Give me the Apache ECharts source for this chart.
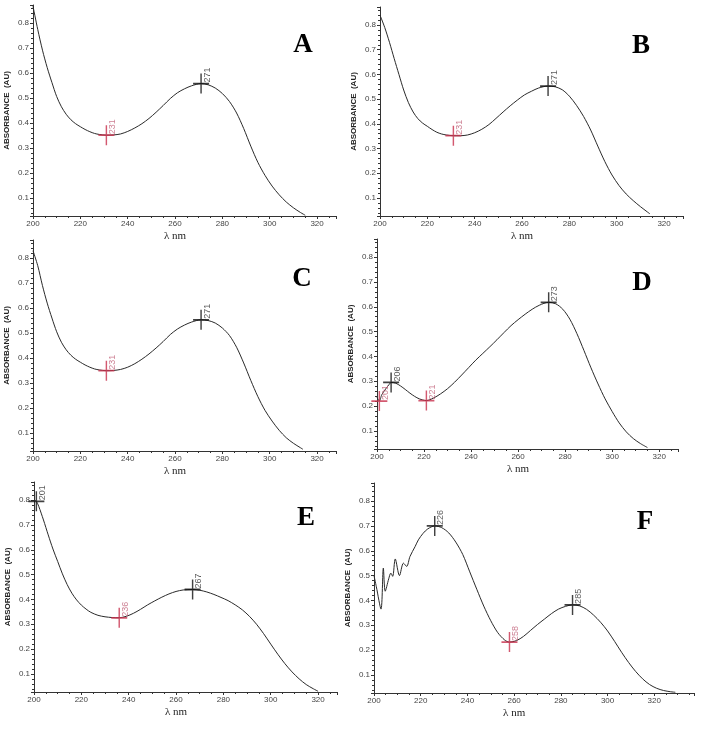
<!DOCTYPE html>
<html><head><meta charset="utf-8">
<script src="https://cdn.jsdelivr.net/npm/echarts@6/dist/echarts.min.js"></script>
<style>html,body{margin:0;padding:0;background:#fff}#c{width:714px;height:730px}</style>
</head><body><div id="c"></div>
<script>
// ---- data (wavelength nm, absorbance AU) ----
const panelLetters = ['A','B','C','D','E','F'];
const xTickValues = [200,220,240,260,280,300,320];
const yTickValues = [0.1,0.2,0.3,0.4,0.5,0.6,0.7,0.8];

const nmA = [200,202,204,206,208,210,212,214,216,218,220,222,224,226,228,231,234,237,240,243,246,249,252,255,258,261,264,267,271,274,277,280,283,286,289,292,295,298,301,304,307,310,313,315];
const absA = [0.868,0.775,0.692,0.622,0.562,0.506,0.465,0.435,0.413,0.397,0.385,0.374,0.365,0.358,0.354,0.351,0.352,0.356,0.366,0.38,0.397,0.418,0.443,0.47,0.498,0.521,0.537,0.549,0.558,0.553,0.54,0.518,0.486,0.44,0.378,0.307,0.242,0.19,0.147,0.112,0.083,0.06,0.041,0.03];
const peakNmA = [271], peakAbsA = [0.558];
const valleyNmA = [231], valleyAbsA = [0.351];

const nmB = [200,202,204,206,208,210,212,214,216,218,220,222,224,226,228,231,234,237,240,243,246,249,252,255,258,261,264,267,271,274,277,280,283,286,289,292,295,298,301,304,307,310,313,314];
const absB = [0.84,0.79,0.73,0.664,0.6,0.537,0.486,0.448,0.421,0.403,0.39,0.377,0.366,0.359,0.355,0.352,0.352,0.355,0.364,0.378,0.397,0.422,0.448,0.473,0.496,0.517,0.532,0.545,0.553,0.55,0.538,0.512,0.475,0.43,0.375,0.31,0.247,0.193,0.15,0.116,0.089,0.065,0.043,0.036];
const peakNmB = [271], peakAbsB = [0.553];
const valleyNmB = [231], valleyAbsB = [0.352];

const nmC = [200,202,204,206,208,210,212,214,216,218,220,222,224,226,228,231,234,237,240,243,246,249,252,255,258,261,264,267,271,274,277,280,283,286,289,292,295,298,301,304,307,310,313,314];
const absC = [0.83,0.77,0.69,0.62,0.56,0.505,0.463,0.433,0.411,0.395,0.383,0.372,0.363,0.356,0.352,0.349,0.35,0.354,0.363,0.377,0.395,0.416,0.44,0.466,0.494,0.516,0.532,0.544,0.553,0.55,0.54,0.52,0.49,0.443,0.38,0.31,0.245,0.19,0.147,0.11,0.08,0.058,0.04,0.034];
const peakNmC = [271], peakAbsC = [0.553];
const valleyNmC = [231], valleyAbsC = [0.349];

const nmD = [200,201,202,203,204,205,206,208,210,212,214,216,218,221,224,227,230,233,236,239,242,245,248,251,254,257,260,263,266,269,273,276,279,282,285,288,291,294,297,300,303,306,309,312,315];
const absD = [0.235,0.22,0.245,0.26,0.273,0.285,0.295,0.292,0.281,0.267,0.252,0.239,0.229,0.222,0.232,0.249,0.27,0.296,0.325,0.355,0.385,0.412,0.439,0.467,0.496,0.524,0.548,0.57,0.59,0.606,0.618,0.612,0.59,0.55,0.492,0.424,0.354,0.289,0.229,0.178,0.132,0.096,0.069,0.049,0.033];
const peakNmD = [206,273], peakAbsD = [0.295,0.618];
const valleyNmD = [201,221], valleyAbsD = [0.22,0.222];

const nmE = [200,201,202,204,206,208,210,212,214,216,218,220,222,224,227,230,233,236,239,242,245,248,251,254,257,260,263,267,270,273,276,279,282,285,288,291,294,297,300,303,306,309,312,315,318,320];
const absE = [0.80,0.795,0.775,0.72,0.66,0.603,0.553,0.503,0.46,0.425,0.398,0.377,0.361,0.348,0.336,0.33,0.327,0.326,0.332,0.344,0.36,0.378,0.394,0.409,0.422,0.432,0.438,0.44,0.437,0.43,0.42,0.408,0.395,0.378,0.358,0.332,0.3,0.262,0.22,0.179,0.141,0.108,0.08,0.057,0.04,0.03];
const peakNmE = [201,267], peakAbsE = [0.795,0.44];
const valleyNmE = [236], valleyAbsE = [0.326];

const nmF = [200,201,203,204,204.8,206.3,207.2,208,209.1,210.9,212.6,214,215.4,217.6,219,221,223,226,229,232,235,238,241,244,247,250,253,256,258,261,264,267,270,273,276,279,282,285,288,291,294,297,300,303,306,309,312,315,318,321,324,327,329];
const absF = [0.50,0.455,0.365,0.53,0.437,0.487,0.51,0.497,0.567,0.50,0.55,0.537,0.577,0.617,0.644,0.67,0.688,0.70,0.693,0.672,0.635,0.585,0.515,0.445,0.377,0.318,0.27,0.24,0.232,0.238,0.255,0.279,0.303,0.325,0.347,0.365,0.376,0.382,0.378,0.364,0.341,0.312,0.277,0.235,0.191,0.15,0.114,0.084,0.061,0.046,0.037,0.032,0.03];
const peakNmF = [226,285], peakAbsF = [0.70,0.382];
const valleyNmF = [258], valleyAbsF = [0.232];

// ---- layout / style ----
const panels = [
  {nm:nmA, abs:absA, pk:[peakNmA,peakAbsA], vl:[valleyNmA,valleyAbsA]},
  {nm:nmB, abs:absB, pk:[peakNmB,peakAbsB], vl:[valleyNmB,valleyAbsB]},
  {nm:nmC, abs:absC, pk:[peakNmC,peakAbsC], vl:[valleyNmC,valleyAbsC]},
  {nm:nmD, abs:absD, pk:[peakNmD,peakAbsD], vl:[valleyNmD,valleyAbsD]},
  {nm:nmE, abs:absE, pk:[peakNmE,peakAbsE], vl:[valleyNmE,valleyAbsE]},
  {nm:nmF, abs:absF, pk:[peakNmF,peakAbsF], vl:[valleyNmF,valleyAbsF]}
];
const boxes = [
  {left:33, top:5, width:303, height:211, xMax:328},
  {left:380, top:7, width:303, height:209, xMax:328},
  {left:33, top:240, width:303, height:211, xMax:328},
  {left:377, top:239, width:301, height:210, xMax:328},
  {left:34, top:482, width:303, height:210, xMax:328},
  {left:374, top:483, width:320, height:210, xMax:337}
];
const letterPos = [[303,45],[641,46],[302,279],[642,283],[306,518],[645,522]];
const Y_MIN = 0.027, Y_MAX = 0.873;
const AX = '#333';
const CROSS = 'path://M0,10L16,10M8,0L8,20';

const zip = (a,b) => a.map((v,i)=>[v,b[i]]);
const isTick = (v, arr) => arr.some(t => Math.abs(t - v) < 1e-6);

const grid = [], xAxis = [], yAxis = [], series = [], graphic = [];
panels.forEach((p, i) => {
  const b = boxes[i];
  grid.push({left:b.left, top:b.top, width:b.width, height:b.height, containLabel:false});
  const shift = b.width/2 - 60*b.width/(b.xMax-200);
  xAxis.push({
    gridIndex:i, type:'value', min:200, max:b.xMax, interval:20,
    name:'λ nm', nameLocation:'middle', nameGap:15,
    nameTextStyle:{fontFamily:'Liberation Serif', fontSize:11, color:'#222', padding:[0, 2*shift, 0, 0]},
    axisLine:{lineStyle:{color:AX, width:1}},
    axisTick:{show:true, length:3, lineStyle:{color:AX}},
    minorTick:{show:true, splitNumber:4, length:2, lineStyle:{color:AX}},
    splitLine:{show:false},
    axisLabel:{fontFamily:'Liberation Sans', fontSize:8, color:'#444', margin:4,
      formatter: v => isTick(v, xTickValues) ? String(v) : ''}
  });
  yAxis.push({
    gridIndex:i, type:'value', min:Y_MIN, max:Y_MAX, splitNumber:8,
    name:'ABSORBANCE  (AU)', nameLocation:'middle', nameGap:22,
    nameTextStyle:{fontFamily:'Liberation Sans', fontSize:8, fontWeight:'bold', color:'#222'},
    axisLine:{show:true, lineStyle:{color:AX, width:1}},
    axisTick:{show:true, length:3, lineStyle:{color:AX}},
    minorTick:{show:true, splitNumber:5, length:2, lineStyle:{color:AX}},
    splitLine:{show:false},
    axisLabel:{fontFamily:'Liberation Sans', fontSize:8, color:'#444', margin:4,
      formatter: v => isTick(v, yTickValues) ? v.toFixed(1) : ''}
  });
  series.push({
    type:'line', xAxisIndex:i, yAxisIndex:i, data:zip(p.nm, p.abs),
    showSymbol:false, smooth:0.3, silent:true,
    lineStyle:{color:'#2a2a2a', width:1}
  });
  const mk = (pts, col, lblCol) => ({
    type:'scatter', xAxisIndex:i, yAxisIndex:i, data:zip(pts[0], pts[1]),
    symbol:CROSS, symbolSize:[16,20], z:5,
    itemStyle:{color:'transparent', borderColor:col, borderWidth:1.6},
    label:{show:true, position:'inside', rotate:90, align:'left', verticalAlign:'middle',
      offset:[1,6], fontFamily:'Liberation Sans', fontSize:9, color:lblCol,
      formatter: d => String(d.value[0])}
  });
  series.push(mk(p.pk, '#111', '#333'));
  series.push(mk(p.vl, '#c8304c', '#c06078'));
  graphic.push({type:'text', x:letterPos[i][0], y:letterPos[i][1],
    style:{text:panelLetters[i], font:'bold 27px "Liberation Serif"', fill:'#000', align:'center', verticalAlign:'middle'}});
});

const chart = echarts.init(document.getElementById('c'));
chart.setOption({animation:false, backgroundColor:'#fff', grid, xAxis, yAxis, series, graphic});
</script></body></html>
